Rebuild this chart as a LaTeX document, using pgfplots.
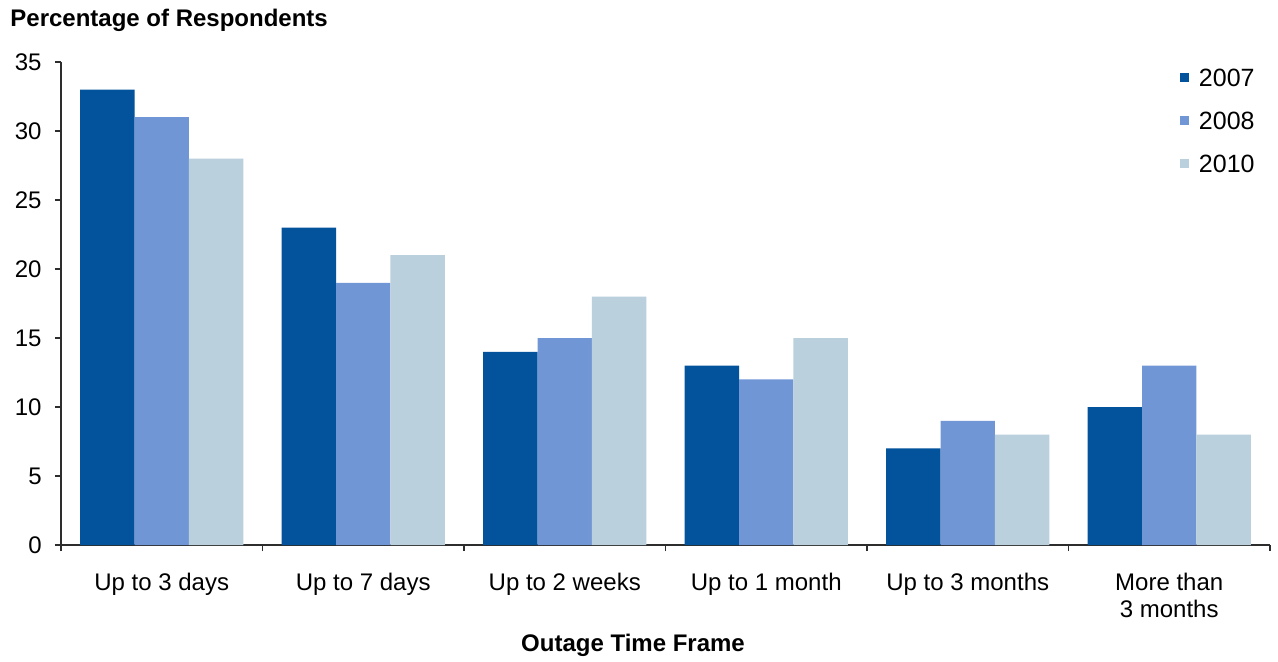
\documentclass[border=0pt]{standalone}
\usepackage{fontspec}
\setmainfont{Liberation Sans}
\usepackage{pgfplots}
\pgfplotsset{compat=1.18}
\definecolor{c07}{RGB}{2,82,156}
\definecolor{c08}{RGB}{112,150,213}
\definecolor{c10}{RGB}{186,208,220}
\definecolor{axc}{RGB}{45,45,45}
\begin{document}
\begin{tikzpicture}
\begin{axis}[
  scale only axis, width=604.5pt, height=241.5pt,
  xmin=-0.5, xmax=5.5, ymin=0, ymax=35,
  axis x line*=bottom, axis y line*=left,
  axis line style={axc, line width=0.75pt, -},
  tick align=outside,
  xtick={0,...,5},
  xticklabels={Up to 3 days, Up to 7 days, Up to 2 weeks, Up to 1 month, Up to 3 months, {More than\\3 months}},
  minor xtick={-0.5,0.5,...,5.5},
  major x tick style={draw=none},
  minor x tick style={axc, line width=0.75pt},
  minor tick length=3pt,
  ytick={0,5,...,35},
  ytick style={axc, line width=0.75pt},
  major tick length=3pt,
  tick label style={font=\fontsize{12}{13.5}\selectfont},
  xticklabel style={align=center, anchor=north, inner sep=0pt, yshift=-11pt},
  yticklabel style={anchor=east, inner sep=0pt, xshift=-6.5pt},
  /pgf/number format/assume math mode=true,
  legend style={at={(1,1)}, anchor=north east, xshift=-4.5pt, yshift=-1pt,
    draw=none, fill=none, font=\fontsize{12.5}{13.5}\selectfont,
    row sep=12.75pt, column sep=0pt,
    nodes={inner sep=0pt, text height=8.8pt, text depth=0pt}},
  legend cell align=left,
  legend image code/.code={\fill[#1] (0pt,-2.45pt) rectangle (4.5pt,2.05pt);},
  legend style={/tikz/every odd column/.append style={column sep=5pt}},
]
\addplot[ybar, bar width=0.27, bar shift=-0.27, fill=c07, draw=none] coordinates {(0,33) (1,23) (2,14) (3,13) (4,7) (5,10)};
\addplot[ybar, bar width=0.27, bar shift=0, fill=c08, draw=none] coordinates {(0,31) (1,19) (2,15) (3,12) (4,9) (5,13)};
\addplot[ybar, bar width=0.27, bar shift=0.27, fill=c10, draw=none] coordinates {(0,28) (1,21) (2,18) (3,15) (4,8) (5,8)};
\legend{2007,2008,2010}
\end{axis}
\node[anchor=west, inner sep=0pt, font=\bfseries\fontsize{12}{14}\selectfont] at (-25.5pt,262.5pt) {Percentage of Respondents};
\node[inner sep=0pt, font=\bfseries\fontsize{12}{14}\selectfont] at (286pt,-50pt) {Outage Time Frame};
\pgfresetboundingbox
\path[use as bounding box] (-30.5pt,-58pt) rectangle (608.5pt,272.5pt);
\end{tikzpicture}
\end{document}
